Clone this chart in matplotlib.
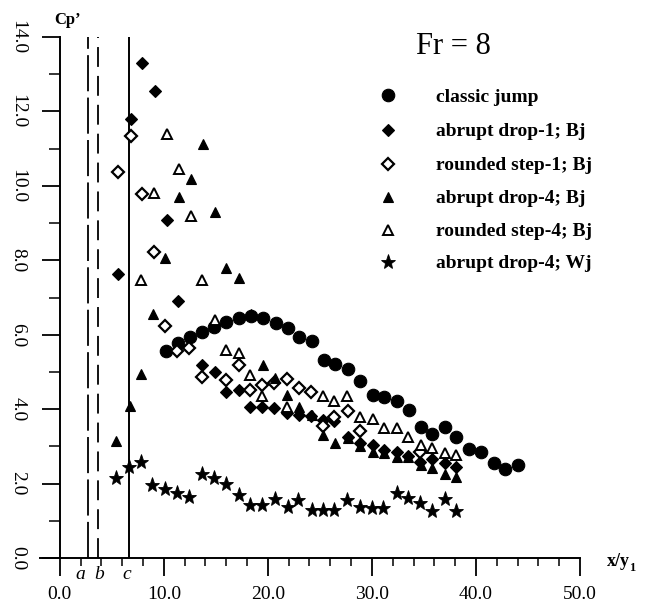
import matplotlib
matplotlib.use("Agg")
import matplotlib.pyplot as plt
from matplotlib.lines import Line2D
from matplotlib.ticker import MultipleLocator, FixedLocator

plt.rcParams['font.family'] = ['Liberation Serif', 'DejaVu Serif']

# ---------------- data ----------------
classic_x = [10.2, 11.4, 12.5, 13.7, 14.8, 16.0, 17.2, 18.4, 19.5, 20.8, 21.9, 23.0, 24.2, 25.4, 26.5,
             27.7, 28.9, 30.1, 31.2, 32.4, 33.6, 34.7, 35.8, 37.0, 38.1, 39.3, 40.5, 41.7, 42.8, 44.0]
classic_y = [5.57, 5.78, 5.93, 6.07, 6.2, 6.33, 6.44, 6.49, 6.44, 6.31, 6.17, 5.95, 5.83, 5.32, 5.21,
             5.08, 4.75, 4.38, 4.33, 4.22, 3.98, 3.52, 3.34, 3.52, 3.24, 2.92, 2.86, 2.55, 2.38, 2.49]

drop1_x = [5.55, 6.8, 7.95, 9.13, 10.26, 11.38, 13.7, 14.9, 16.0, 17.2, 18.3, 19.45, 20.6, 21.8,
           23.0, 24.1, 25.3, 26.4, 27.7, 28.85, 30.1, 31.2, 32.4, 33.5, 34.6, 35.8, 37.0, 38.1]
drop1_y = [7.63, 11.79, 13.31, 12.54, 9.07, 6.91, 5.19, 5.01, 4.47, 4.52, 4.07, 4.07, 4.02, 3.90,
           3.83, 3.81, 3.72, 3.67, 3.26, 3.10, 3.04, 2.90, 2.86, 2.74, 2.59, 2.65, 2.56, 2.45]

round1_x = [5.6, 6.8, 7.9, 9.07, 10.16, 11.3, 12.4, 13.7, 16.0, 17.2, 18.3, 19.45, 20.6, 21.8,
            23.0, 24.1, 25.3, 26.4, 27.7, 28.9, 34.6]
round1_y = [10.36, 11.33, 9.78, 8.22, 6.24, 5.55, 5.64, 4.87, 4.78, 5.19, 4.52, 4.65, 4.70, 4.80,
            4.56, 4.45, 3.55, 3.80, 3.94, 3.41, 2.85]

drop4_x = [5.45, 6.73, 7.79, 8.97, 10.16, 11.44, 12.57, 13.8, 14.9, 16.0, 17.2, 18.4, 19.5, 20.7,
           21.8, 23.0, 24.2, 25.3, 26.5, 27.7, 28.9, 30.1, 31.2, 32.4, 33.5, 34.7, 35.8, 37.0, 38.1]
drop4_y = [3.15, 4.09, 4.94, 6.56, 8.07, 9.69, 10.18, 11.13, 9.29, 7.80, 7.53, 6.55, 5.19, 4.85,
           4.38, 4.05, 3.84, 3.31, 3.08, 3.22, 3.01, 2.86, 2.81, 2.71, 2.72, 2.50, 2.41, 2.26, 2.19]

round4_x = [7.85, 9.07, 10.26, 11.44, 12.57, 13.7, 14.9, 16.0, 17.2, 18.3, 19.45, 21.8, 25.3, 26.4,
            27.6, 28.85, 30.1, 31.2, 32.4, 33.5, 34.7, 35.8, 37.0, 38.1]
round4_y = [7.47, 9.82, 11.40, 10.45, 9.19, 7.47, 6.40, 5.59, 5.51, 4.92, 4.34, 4.06, 4.34, 4.22,
            4.34, 3.79, 3.74, 3.50, 3.48, 3.24, 3.04, 2.95, 2.81, 2.77]

wj_x = [5.45, 6.67, 7.79, 8.9, 10.16, 11.3, 12.4, 13.7, 14.8, 16.0, 17.2, 18.3, 19.45, 20.7, 21.9,
        22.9, 24.2, 25.3, 26.4, 27.6, 28.85, 30.0, 31.1, 32.4, 33.5, 34.6, 35.8, 37.0, 38.1]
wj_y = [2.14, 2.45, 2.59, 1.96, 1.85, 1.76, 1.65, 2.27, 2.16, 1.98, 1.68, 1.42, 1.42, 1.59, 1.38,
        1.56, 1.29, 1.29, 1.29, 1.56, 1.38, 1.34, 1.34, 1.76, 1.60, 1.49, 1.27, 1.58, 1.27]

labels = ['classic jump', 'abrupt drop-1; Bj', 'rounded step-1; Bj',
          'abrupt drop-4; Bj', 'rounded step-4; Bj', 'abrupt drop-4; Wj']
line_a, line_b, line_c = 2.7, 3.7, 6.65
xticks = [0, 10, 20, 30, 40, 50]
yticks = [0, 2, 4, 6, 8, 10, 12, 14]

# ---------------- styles ----------------
styles = [
    dict(marker='o', ms=9.0, mfc='black', mec='black', mew=0.8),
    dict(marker='D', ms=6.4, mfc='black', mec='black', mew=0.8),
    dict(marker='D', ms=5.7, mfc='white', mec='black', mew=1.6),
    dict(marker='^', ms=7.8, mfc='black', mec='black', mew=0.8),
    dict(marker='^', ms=7.4, mfc='white', mec='black', mew=1.4),
    dict(marker='*', ms=11, mfc='black', mec='black', mew=0.6),
]
series = [(classic_x, classic_y), (drop1_x, drop1_y), (round1_x, round1_y),
          (drop4_x, drop4_y), (round4_x, round4_y), (wj_x, wj_y)]

W, H = 648, 607
fig = plt.figure(figsize=(W / 100, H / 100), dpi=100)
fig.patch.set_facecolor('white')
ax = fig.add_axes([40 / W, 49 / H, 540 / W, 521 / H])
ax.set_xlim(-1.9, 50)
ax.set_ylim(0, 14)

ax.spines['top'].set_visible(False)
ax.spines['right'].set_visible(False)
ax.spines['left'].set_position(('data', 0))
for s in ('left', 'bottom'):
    ax.spines[s].set_linewidth(1.4)

# vertical reference lines
ax.plot([line_a, line_a], [0, 14], color='black', lw=1.3, dashes=(20, 3.5), solid_capstyle='butt')
ax.plot([line_b, line_b], [0, 14], color='black', lw=1.3, dashes=(11, 5))
ax.plot([line_c, line_c], [0, 14], color='black', lw=1.4)

for (xs, ys), st, lab in zip(series, styles, labels):
    ax.plot(xs, ys, linestyle='none', label=lab, clip_on=False, zorder=3, **st)

ax.xaxis.set_major_locator(FixedLocator(xticks))
ax.xaxis.set_minor_locator(MultipleLocator(2))
ax.set_xticklabels(['%.1f' % v for v in xticks])
ax.yaxis.set_major_locator(FixedLocator(yticks))
ax.yaxis.set_minor_locator(MultipleLocator(1))
ax.set_yticklabels(['%.1f' % v for v in yticks])

ax.tick_params(axis='x', which='major', direction='out', length=13, width=1.3, pad=7, labelsize=14)
ax.tick_params(axis='x', which='minor', direction='out', length=6, width=1.1)
ax.tick_params(axis='y', which='major', direction='out', length=13, width=1.3, pad=11,
               labelsize=14, labelrotation=270)
ax.tick_params(axis='y', which='minor', direction='out', length=8, width=1.1)
for t in ax.get_yticklabels():
    t.set_verticalalignment('center')

# a, b, c labels
for lx, txt in [(2.0, 'a'), (3.75, 'b'), (6.45, 'c')]:
    ax.text(lx, -0.43, txt, ha='center', va='center', fontsize=14, style='italic')

# axis titles
fig.text(68 / W, 1 - 20 / H, 'Cp\u2019', ha='center', va='center', fontsize=12, fontweight='bold')
fig.text(607 / W, 1 - 566 / H, 'x/y', ha='left', va='baseline', fontsize=13, fontweight='bold')
fig.text(629 / W, 1 - 571 / H, '1', ha='left', va='baseline', fontsize=9, fontweight='bold')

fig.text(453 / W, 1 - 47 / H, 'Fr = 8', ha='center', va='center', fontsize=22)

# legend drawn manually
rows_y = [95, 130, 164, 197, 230, 262]
for st, lab, ry in zip(styles, labels, rows_y):
    fig.add_artist(Line2D([388 / W], [1 - ry / H], transform=fig.transFigure,
                          linestyle='none', **st))
    fig.text(436 / W, 1 - (ry + 6.5) / H, lab, ha='left', va='baseline',
             fontsize=14, fontweight='bold')

fig.savefig('out.png', dpi=100, facecolor='white')
